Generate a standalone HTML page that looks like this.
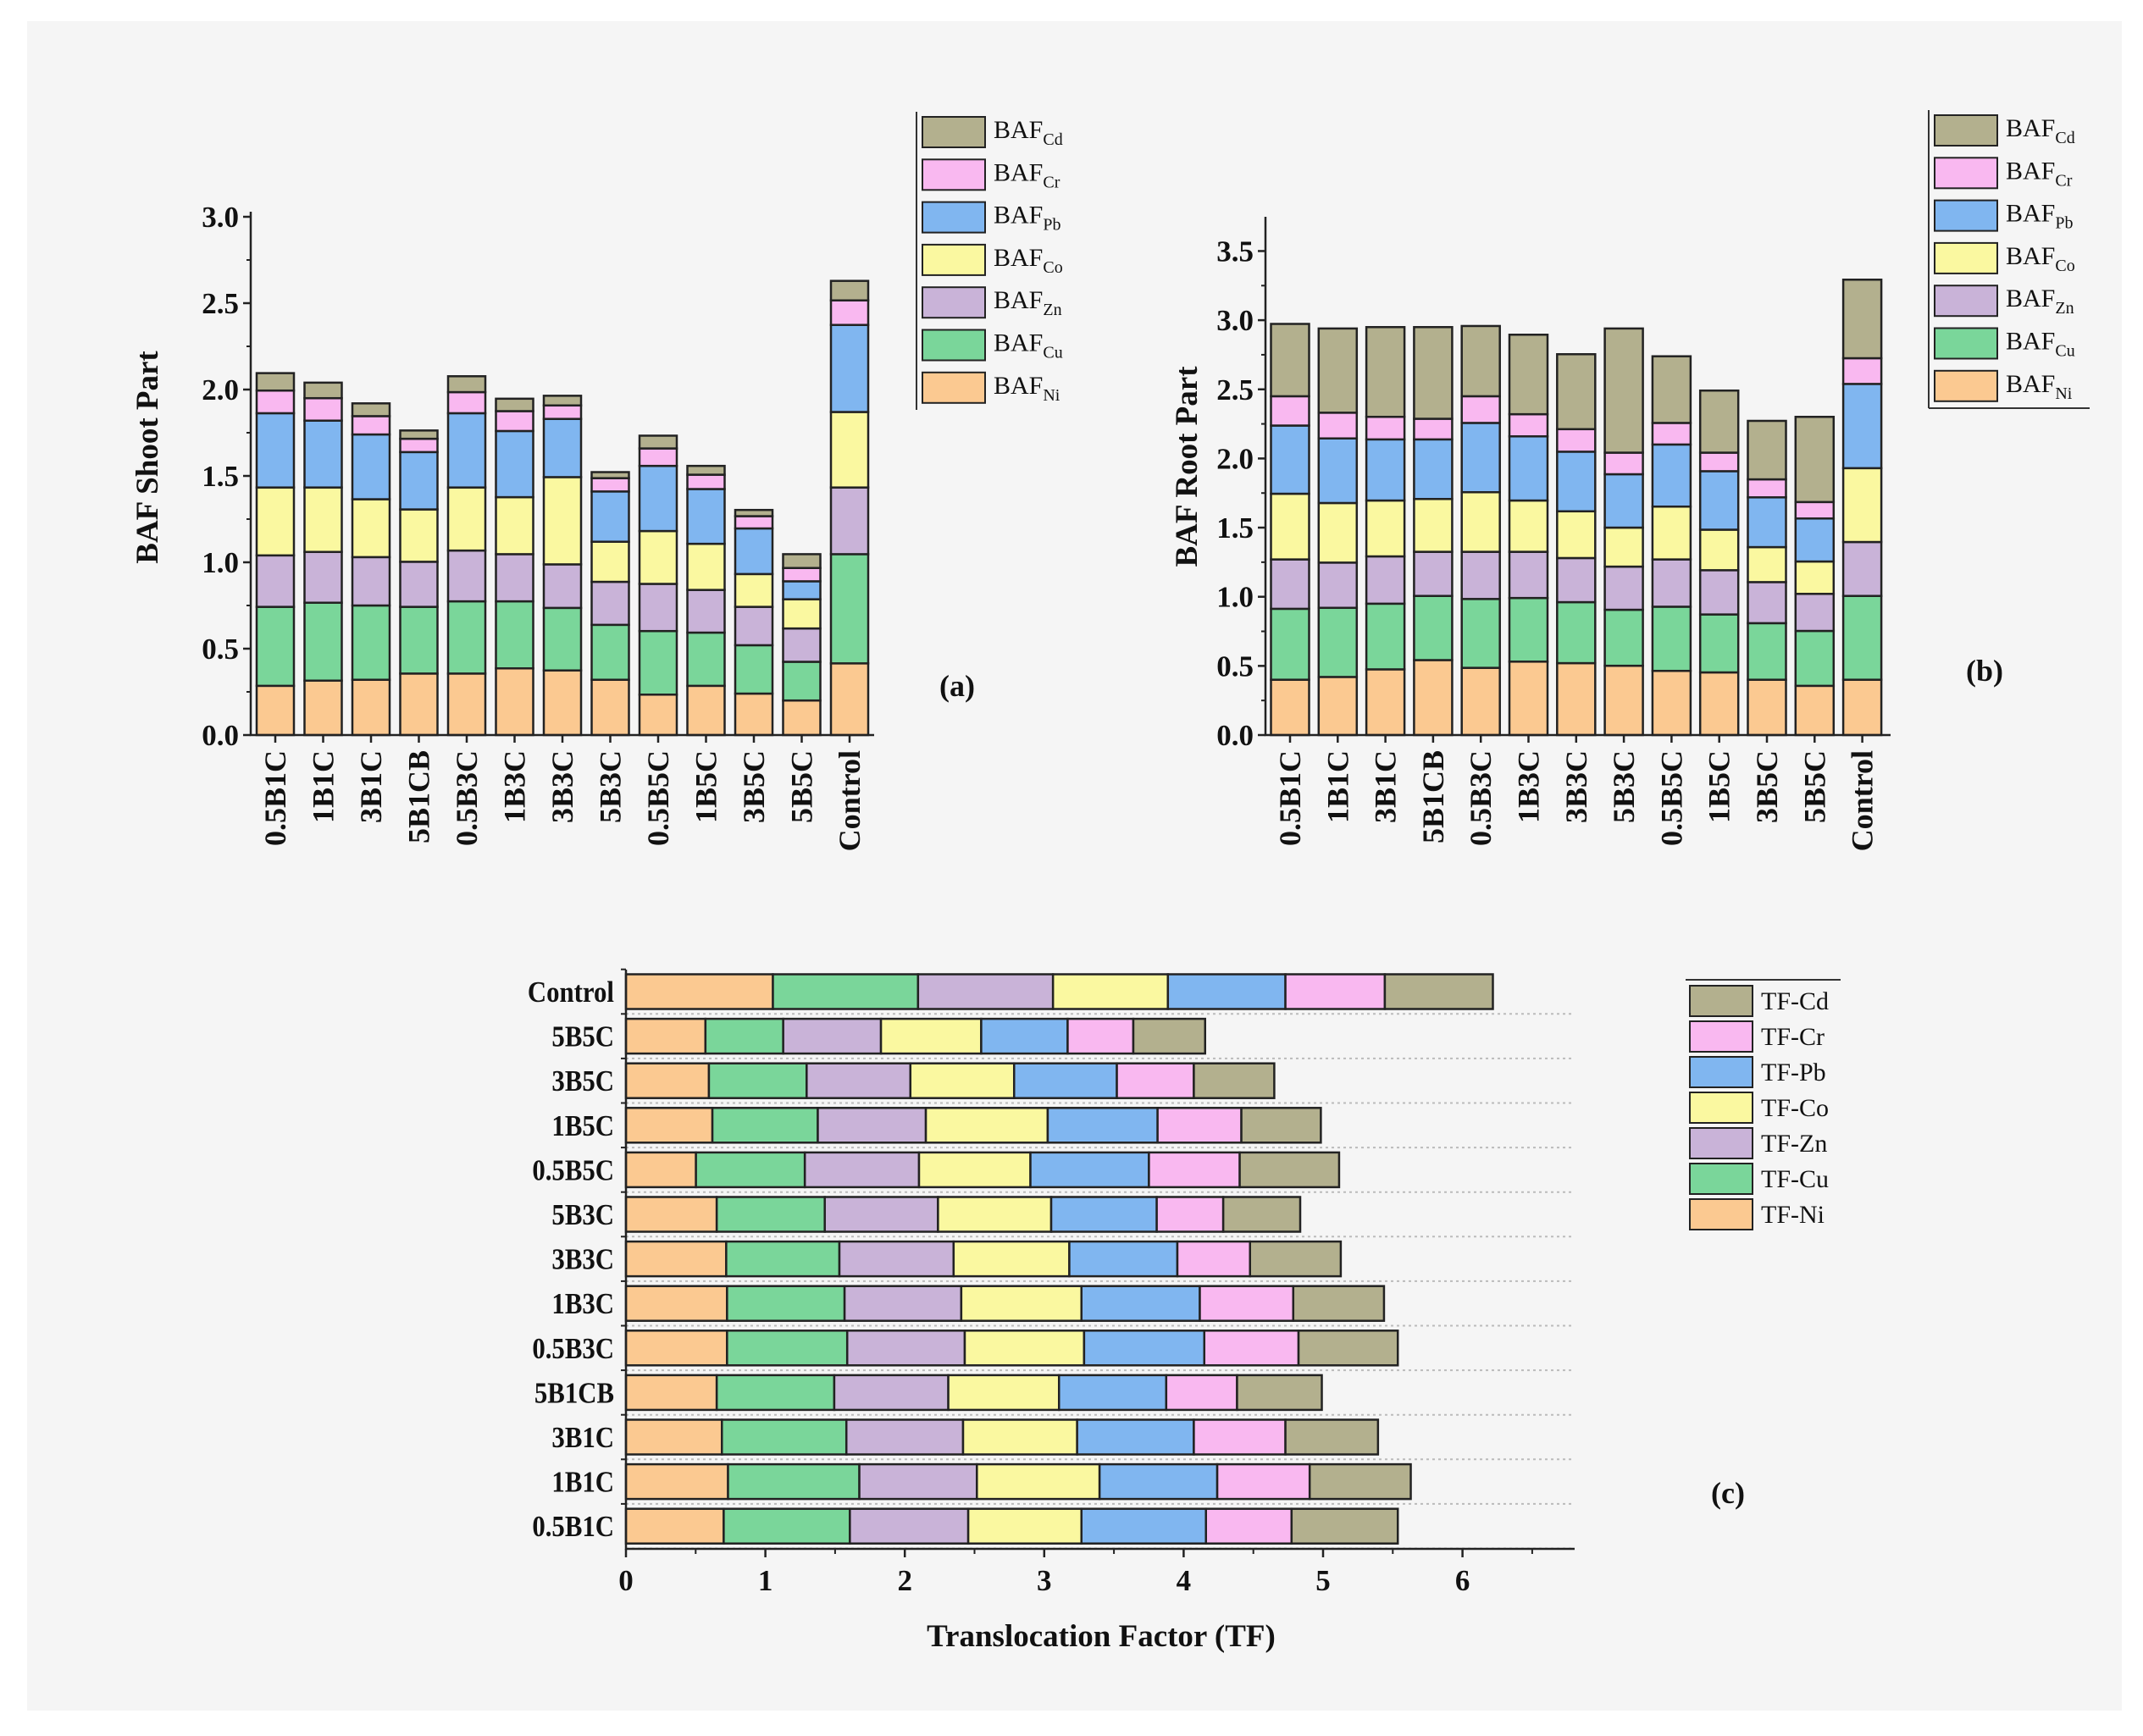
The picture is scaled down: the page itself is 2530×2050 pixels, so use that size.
<!DOCTYPE html>
<html><head><meta charset="utf-8"><style>
html,body{margin:0;padding:0;background:#fff;}
svg{display:block;font-family:"Liberation Serif",serif;}
</style></head><body>
<svg id="fig" width="2530" height="2050" viewBox="0 0 2530 2050" xmlns="http://www.w3.org/2000/svg">
<rect x="32" y="25" width="2473" height="1995" fill="#f5f5f5"/>
</svg>
<script>
const metals = ["Ni","Cu","Zn","Co","Pb","Cr","Cd"];
const colors = ["#fbc991","#7ad69a","#c9b3d8","#faf8a0","#80b6f0","#f9b8f0","#b3b08e"];
const catsAB = ["0.5B1C","1B1C","3B1C","5B1CB","0.5B3C","1B3C","3B3C","5B3C","0.5B5C","1B5C","3B5C","5B5C","Control"];
// cumulative tops per category (Ni..Cd) — shoot BAF
const shootNi = [0.285,0.315,0.32,0.356,0.356,0.386,0.374,0.32,0.234,0.285,0.24,0.2,0.415];
const shootCu = [0.742,0.766,0.75,0.742,0.774,0.774,0.736,0.638,0.602,0.593,0.52,0.424,1.047];
const shootZn = [1.04,1.06,1.03,1.003,1.068,1.047,0.988,0.887,0.875,0.84,0.742,0.617,1.433];
const shootCo = [1.433,1.433,1.365,1.306,1.433,1.377,1.493,1.119,1.181,1.107,0.932,0.786,1.87];
const shootPb = [1.863,1.82,1.74,1.638,1.863,1.76,1.83,1.41,1.558,1.424,1.196,0.89,2.374];
const shootCr = [1.994,1.95,1.846,1.715,1.985,1.875,1.908,1.487,1.659,1.507,1.267,0.967,2.516];
const shootCd = [2.095,2.04,1.92,1.763,2.077,1.947,1.964,1.522,1.733,1.558,1.303,1.047,2.629];
// root BAF cumulative
const rootNi = [0.40,0.42,0.475,0.542,0.486,0.531,0.52,0.501,0.464,0.453,0.40,0.356,0.40];
const rootCu = [0.913,0.92,0.95,1.006,0.984,0.991,0.961,0.906,0.928,0.872,0.809,0.753,1.006];
const rootZn = [1.27,1.247,1.292,1.325,1.325,1.325,1.28,1.218,1.27,1.192,1.106,1.021,1.396];
const rootCo = [1.745,1.678,1.696,1.707,1.756,1.696,1.618,1.5,1.652,1.485,1.359,1.255,1.93];
const rootPb = [2.238,2.145,2.138,2.138,2.257,2.16,2.049,1.886,2.101,1.908,1.719,1.566,2.539];
const rootCr = [2.45,2.331,2.301,2.287,2.45,2.32,2.212,2.042,2.257,2.042,1.849,1.685,2.725];
const rootCd = [2.973,2.94,2.95,2.95,2.958,2.895,2.754,2.94,2.739,2.491,2.272,2.301,3.293];
// TF cumulative (top to bottom order)
const catsC = ["Control","5B5C","3B5C","1B5C","0.5B5C","5B3C","3B3C","1B3C","0.5B3C","5B1CB","3B1C","1B1C","0.5B1C"];
const tfNi = [1.054,0.57,0.595,0.62,0.502,0.651,0.719,0.725,0.725,0.651,0.688,0.732,0.701];
const tfCu = [2.095,1.128,1.296,1.376,1.283,1.426,1.531,1.568,1.587,1.494,1.581,1.674,1.606];
const tfZn = [3.063,1.829,2.04,2.151,2.102,2.238,2.35,2.405,2.43,2.312,2.418,2.517,2.455];
const tfCo = [3.887,2.548,2.784,3.025,2.901,3.05,3.18,3.267,3.286,3.106,3.236,3.397,3.267];
const tfPb = [4.73,3.168,3.521,3.813,3.751,3.807,3.955,4.116,4.148,3.875,4.073,4.241,4.16];
const tfCr = [5.443,3.639,4.073,4.414,4.402,4.284,4.476,4.786,4.824,4.383,4.73,4.904,4.774];
const tfCd = [6.218,4.154,4.65,4.984,5.115,4.836,5.127,5.437,5.536,4.991,5.394,5.629,5.536];
const ticksA = [0,0.5,1,1.5,2,2.5,3];
const ticksB = [0,0.5,1,1.5,2,2.5,3,3.5];
const ticksC = [0,1,2,3,4,5,6];

const NS="http://www.w3.org/2000/svg";
const svg=document.getElementById('fig');
function mk(tag,attrs,parent){const e=document.createElementNS(NS,tag);for(const k in attrs)e.setAttribute(k,attrs[k]);(parent||svg).appendChild(e);return e;}
function fmt(v){return v.toFixed(1);}

function vchart(opt){
  const g=mk('g',{});
  
  
  const y=v=>opt.y0-(v-0)*opt.ppu;
  const xc=i=>opt.x1+i*opt.step;
  catsAB.forEach((c,i)=>{
    let prev=0;
    opt.series.forEach((arr,k)=>{
      const r=mk('rect',{x:xc(i)-opt.bw/2,y:y(arr[i]),width:opt.bw,height:y(prev)-y(arr[i]),fill:colors[k],stroke:'#222','stroke-width':2.5},g);
      
      
      prev=arr[i];
    });
    const t=mk('text',{transform:`translate(${xc(i)+12},${opt.y0+18}) rotate(-90)`,'text-anchor':'end','font-size':36,'font-weight':'bold',fill:'#111'},g);
    t.textContent=c;
    
    
  });
  const ax=mk('path',{d:`M${opt.ax},${opt.top} V${opt.y0} H${opt.axR}`,stroke:'#222','stroke-width':2.5,fill:'none'},g);
  
  
  opt.ticks.forEach(v=>{
    mk('line',{x1:opt.ax-9,x2:opt.ax,y1:y(v),y2:y(v),stroke:'#222','stroke-width':2.5},g);
    if(y(v+0.25)>=opt.top) mk('line',{x1:opt.ax-5,x2:opt.ax,y1:y(v+0.25),y2:y(v+0.25),stroke:'#222','stroke-width':2},g);
    const t=mk('text',{x:opt.ax-14,y:y(v)+12,'text-anchor':'end','font-size':35,'font-weight':'bold',fill:'#111'},g);
    t.textContent=fmt(v);
    
    
  });
  catsAB.forEach((c,i)=>mk('line',{x1:xc(i),x2:xc(i),y1:opt.y0,y2:opt.y0+9,stroke:'#222','stroke-width':2.5},g));
  const tt=mk('text',{transform:`translate(${opt.titleX},${opt.titleY}) rotate(-90)`,'text-anchor':'middle','font-size':37,'font-weight':'bold',fill:'#111'},g);
  tt.textContent=opt.title;
  
  
  const pl=mk('text',{x:opt.plX,y:opt.plY,'text-anchor':'middle','font-size':36,'font-weight':'bold',fill:'#111'},g);
  pl.textContent=opt.panel;
  
  
  const lg=mk('g',{},g);
  
  
  mk('line',{x1:opt.lx,x2:opt.lx,y1:opt.ly-6,y2:opt.ly+346,stroke:'#333','stroke-width':2},lg);
  if(opt.lbox){mk('path',{d:`M${opt.lx},${opt.ly+346} H${opt.lx+190}`,stroke:'#333','stroke-width':2,fill:'none'},lg);}
  for(let k=6;k>=0;k--){
    const r=6-k;const yy=opt.ly+r*50.3;
    const e=mk('g',{},lg);
    
    
    mk('rect',{x:opt.lx+7,y:yy,width:opt.sw,height:36,fill:colors[k],stroke:'#222','stroke-width':2},e);
    const t=mk('text',{x:opt.lx+opt.sw+17,y:yy+25,'font-size':30,fill:'#111'},e);
    t.textContent='BAF';
    const s=mk('tspan',{'font-size':20,dy:8},t);
    s.textContent=metals[k];
  }
}
vchart({name:'chart-a-shoot',series:[shootNi,shootCu,shootZn,shootCo,shootPb,shootCr,shootCd],y0:868,ppu:204,x1:325,step:56.5,bw:44,ax:296,axR:1032,top:250,ticks:ticksA,title:'BAF Shoot Part',titleX:186,titleY:540,panel:'(a)',plX:1130,plY:822,lx:1082,ly:138,sw:74});
vchart({name:'chart-b-root',series:[rootNi,rootCu,rootZn,rootCo,rootPb,rootCr,rootCd],y0:868,ppu:163.3,x1:1523,step:56.3,bw:45,ax:1494,axR:2232,top:256,ticks:ticksB,title:'BAF Root Part',titleX:1413,titleY:551,panel:'(b)',plX:2343,plY:804,lx:2277,ly:136,sw:74,lbox:true});

(function(){
  const g=mk('g',{});
  
  
  const x0=739, ppu=164.6, yc0=1171, step=52.6, bh=41, axR=1859, axB=1829;
  const x=v=>x0+v*ppu;
  const yc=i=>yc0+i*step;
  const series=[tfNi,tfCu,tfZn,tfCo,tfPb,tfCr,tfCd];
  for(let i=0;i<catsC.length;i++){
    mk('line',{x1:x0,x2:axR,y1:yc(i)+step/2,y2:yc(i)+step/2,stroke:'#bbb','stroke-width':2,'stroke-dasharray':'3,4'},g);
  }
  catsC.forEach((c,i)=>{
    let prev=0;
    series.forEach((arr,k)=>{
      const r=mk('rect',{x:x(prev),y:yc(i)-bh/2,width:x(arr[i])-x(prev),height:bh,fill:colors[k],stroke:'#222','stroke-width':2.5},g);
      
      
      prev=arr[i];
    });
    const t=mk('text',{x:725/0.88- 725*0.12/0.88,y:yc(i)+12,'text-anchor':'end','font-size':35,'font-weight':'bold',fill:'#111',transform:`translate(${725*0.12},0) scale(0.88,1)`},g);
    t.textContent=c;
    
    
    mk('line',{x1:x0-6,x2:x0,y1:yc(i)-step/2,y2:yc(i)-step/2,stroke:'#222','stroke-width':2},g);
  });
  const ax=mk('path',{d:`M${x0},1145 V${axB} H${axR}`,stroke:'#222','stroke-width':2.5,fill:'none'},g);
  
  
  ticksC.forEach(v=>{
    mk('line',{x1:x(v),x2:x(v),y1:axB,y2:axB+10,stroke:'#222','stroke-width':2.5},g);
    mk('line',{x1:x(v+0.5),x2:x(v+0.5),y1:axB,y2:axB+6,stroke:'#222','stroke-width':2},g);
    const t=mk('text',{x:x(v),y:1878,'text-anchor':'middle','font-size':35,'font-weight':'bold',fill:'#111'},g);
    t.textContent=v;
    
    
  });
  const tt=mk('text',{x:1300,y:1944,'text-anchor':'middle','font-size':37,'font-weight':'bold',fill:'#111'},g);
  tt.textContent='Translocation Factor (TF)';
  
  
  const pl=mk('text',{x:2040,y:1775,'text-anchor':'middle','font-size':36,'font-weight':'bold',fill:'#111'},g);
  pl.textContent='(c)';
  
  
  const lg=mk('g',{},g);
  
  
  mk('line',{x1:1990,x2:2173,y1:1157,y2:1157,stroke:'#333','stroke-width':2},lg);
  for(let k=6;k>=0;k--){
    const r=6-k;const yy=1164+r*42;
    const e=mk('g',{},lg);
    
    
    mk('rect',{x:1995,y:yy,width:74,height:36,fill:colors[k],stroke:'#222','stroke-width':2},e);
    const t=mk('text',{x:2079,y:yy+28,'font-size':30,fill:'#111'},e);
    t.textContent='TF-'+metals[k];
  }
})();
</script>
</body></html>
